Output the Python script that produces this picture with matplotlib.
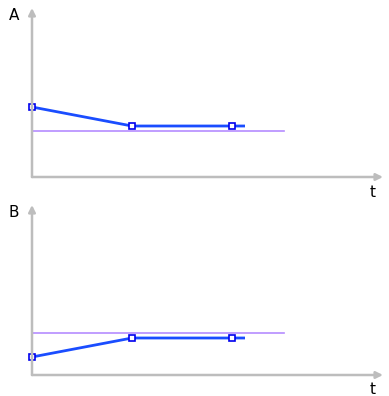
import matplotlib
matplotlib.use('Agg')
import matplotlib.pyplot as plt

# time points and levels (arbitrary units)
t_pts = [0, 1, 2]
line_end = 2.13
a_vals = [70, 51, 51]
b_vals = [18, 37, 37]
a_ref = 46
b_ref = 42
ref_end = 2.52
labels = ['A', 'B']

W, H = 389, 396
fig = plt.figure(figsize=(W / 100, H / 100), dpi=100)

axis_color = '#bdbdbd'
blue = '#1a4dff'
purple = '#b58cff'


def panel(top_px, bottom_px, vals, ref, label):
    left_px, right_px = 32, 383
    h = bottom_px - top_px
    ax = fig.add_axes([left_px / W, 1 - bottom_px / H,
                       (right_px - left_px) / W, h / H])
    ax.set_xlim(0, (right_px - left_px) / 100)
    ax.set_ylim(0, h)
    ax.axis('off')
    # axes with arrows
    arrow = dict(arrowstyle='-|>', color=axis_color, lw=1.8,
                 mutation_scale=10, shrinkA=0, shrinkB=0)
    ax.annotate('', xy=(0, 1), xytext=(0, 0), xycoords='axes fraction',
                arrowprops=arrow)
    ax.annotate('', xy=(1, 0), xytext=(0, 0), xycoords='axes fraction',
                arrowprops=arrow)
    # reference level
    ax.plot([0, ref_end], [ref, ref], color=purple, lw=1.2, clip_on=False)
    # series
    ax.plot(t_pts + [line_end], vals + [vals[-1]], color=blue, lw=2,
            clip_on=False, solid_capstyle='butt')
    ax.plot(t_pts, vals, ls='none', marker='s', ms=4, mfc='white',
            mec='#0000ee', mew=1.2, clip_on=False)
    ax.text(-0.18, h - 7, label, fontsize=11, ha='center', va='center',
            clip_on=False)
    ax.text(3.41, -15, 't', fontsize=11, ha='center', va='center',
            clip_on=False)
    return ax


panel(8, 177, a_vals, a_ref, labels[0])
panel(205, 375, b_vals, b_ref, labels[1])

fig.savefig('out.png', dpi=100)
